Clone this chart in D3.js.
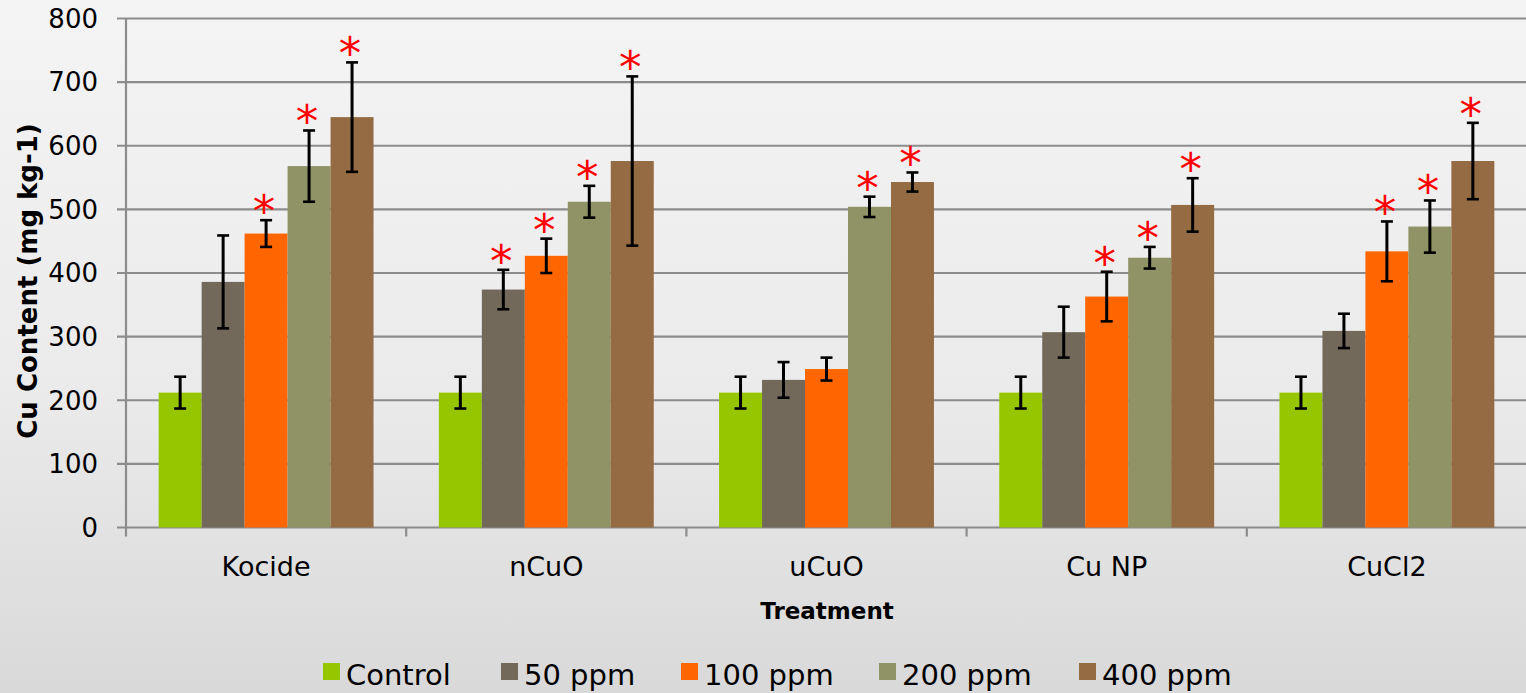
<!DOCTYPE html>
<html>
<head>
<meta charset="utf-8">
<script src="https://cdn.jsdelivr.net/npm/d3@7"></script>
<style>
  body { margin: 0; background: #e6e6e6; }
  svg { display: block; }
  text { font-family: "DejaVu Sans", sans-serif; fill: #000; }
</style>
</head>
<body>
<svg id="chart" width="1526" height="693"></svg>
<script>
// data
var treatments = ["Kocide", "nCuO", "uCuO", "Cu NP", "CuCl2"];
var doses = ["Control", "50 ppm", "100 ppm", "200 ppm", "400 ppm"];
var doseColors = ["#96c600", "#73695a", "#ff6600", "#8f9365", "#946b42"];

// Cu content (mg kg-1), one row per treatment, one value per dose
var kocideVals = [212, 386, 462, 568, 645];
var ncuoVals = [212, 374, 427, 512, 576];
var ucuoVals = [212, 232, 249, 504, 543];
var cunpVals = [212, 307, 363, 424, 507];
var cucl2Vals = [212, 309, 434, 473, 576];

// error bar half-widths
var kocideErr = [25, 73, 21, 56, 86];
var ncuoErr = [25, 31, 27, 25, 133];
var ucuoErr = [25, 28, 18, 16, 15];
var cunpErr = [25, 40, 39, 17, 42];
var cucl2Err = [25, 27, 47, 41, 60];

// significance marks (1 = asterisk)
var kocideSig = [0, 0, 1, 1, 1];
var ncuoSig = [0, 1, 1, 1, 1];
var ucuoSig = [0, 0, 0, 1, 1];
var cunpSig = [0, 0, 1, 1, 1];
var cucl2Sig = [0, 0, 1, 1, 1];

var yTicks = [0, 100, 200, 300, 400, 500, 600, 700, 800];

var allVals = [kocideVals, ncuoVals, ucuoVals, cunpVals, cucl2Vals];
var allErr = [kocideErr, ncuoErr, ucuoErr, cunpErr, cucl2Err];
var allSig = [kocideSig, ncuoSig, ucuoSig, cunpSig, cucl2Sig];

var rows = [];
treatments.forEach(function (t, i) {
    doses.forEach(function (d, j) {
        rows.push({ treatment: t, dose: d, value: allVals[i][j], err: allErr[i][j], sig: allSig[i][j] });
    });
});

var svg = d3.select("#chart");
var W = 1526, H = 693;

// background, light paper fading to grey at the bottom
var defs = svg.append("defs");
var grad = defs.append("linearGradient").attr("id", "bg").attr("x1", 0).attr("y1", 0).attr("x2", 0).attr("y2", 1);
grad.append("stop").attr("offset", "0%").attr("stop-color", "#f4f4f4");
grad.append("stop").attr("offset", "55%").attr("stop-color", "#ebebeb");
grad.append("stop").attr("offset", "100%").attr("stop-color", "#d9d9d9");
svg.append("rect").attr("width", W).attr("height", H).attr("fill", "url(#bg)");

var plotLeft = 126, plotRight = 1527, plotTop = 18.5, plotBottom = 527.5;

var x0 = d3.scaleBand().domain(treatments).range([plotLeft, plotRight]).padding(0);
var x1 = d3.scaleBand().domain(doses).range([0, x0.bandwidth()]).paddingInner(0).paddingOuter(0.76);
var y = d3.scaleLinear().domain([0, 800]).range([plotBottom, plotTop]);
var color = d3.scaleOrdinal().domain(doses).range(doseColors);

// gridlines
svg.append("g").selectAll("line")
    .data(yTicks)
    .enter()
    .append("line")
    .attr("x1", plotLeft - 9)
    .attr("x2", W)
    .attr("y1", function (d) { return y(d); })
    .attr("y2", function (d) { return y(d); })
    .attr("stroke", "#8c8c8c")
    .attr("stroke-width", 2.2);

// y axis labels
svg.append("g").selectAll("text")
    .data(yTicks)
    .enter()
    .append("text")
    .attr("x", 98)
    .attr("y", function (d) { return y(d); })
    .attr("dy", "0.36em")
    .attr("text-anchor", "end")
    .style("font-size", "26px")
    .text(function (d) { return d; });

// y axis line
svg.append("line")
    .attr("x1", plotLeft).attr("x2", plotLeft)
    .attr("y1", plotTop).attr("y2", plotBottom + 9)
    .attr("stroke", "#8c8c8c").attr("stroke-width", 2.2);

// x axis ticks at category boundaries
svg.append("g").selectAll("line")
    .data(treatments.slice(1))
    .enter()
    .append("line")
    .attr("x1", function (d) { return x0(d); })
    .attr("x2", function (d) { return x0(d); })
    .attr("y1", plotBottom)
    .attr("y2", plotBottom + 9)
    .attr("stroke", "#8c8c8c").attr("stroke-width", 2.2);

// category labels
svg.append("g").selectAll("text")
    .data(treatments)
    .enter()
    .append("text")
    .attr("x", function (d) { return x0(d) + x0.bandwidth() / 2; })
    .attr("y", 576)
    .attr("text-anchor", "middle")
    .style("font-size", "27px")
    .text(function (d) { return d; });

// bars
svg.append("g").selectAll("rect")
    .data(rows)
    .enter()
    .append("rect")
    .attr("x", function (d) { return x0(d.treatment) + x1(d.dose); })
    .attr("y", function (d) { return y(d.value); })
    .attr("width", x1.bandwidth())
    .attr("height", function (d) { return y(0) - y(d.value); })
    .attr("fill", function (d) { return color(d.dose); });

// error bars
var errG = svg.append("g").attr("stroke", "#000").attr("stroke-width", 2.6);
rows.forEach(function (d) {
    var cx = x0(d.treatment) + x1(d.dose) + x1.bandwidth() / 2;
    var hi = y(d.value + d.err), lo = y(d.value - d.err);
    errG.append("line").attr("x1", cx).attr("x2", cx).attr("y1", hi).attr("y2", lo).attr("stroke-width", 3);
    errG.append("line").attr("x1", cx - 6).attr("x2", cx + 6).attr("y1", hi).attr("y2", hi);
    errG.append("line").attr("x1", cx - 6).attr("x2", cx + 6).attr("y1", lo).attr("y2", lo);
});

// significance asterisks
svg.append("g").selectAll("text")
    .data(rows.filter(function (d) { return d.sig; }))
    .enter()
    .append("text")
    .attr("x", function (d) { return x0(d.treatment) + x1(d.dose) + x1.bandwidth() / 2 - 2; })
    .attr("y", function (d) { return y(d.value + d.err) + 7; })
    .attr("text-anchor", "middle")
    .style("font-size", "45px")
    .style("fill", "#ff0000")
    .text("*");

// axis titles
svg.append("text")
    .attr("x", 827)
    .attr("y", 619)
    .attr("text-anchor", "middle")
    .style("font-size", "23px")
    .style("font-weight", "bold")
    .text("Treatment");

svg.append("text")
    .attr("transform", "translate(37, 281) rotate(-90)")
    .attr("text-anchor", "middle")
    .style("font-size", "26px")
    .style("font-weight", "bold")
    .text("Cu Content (mg kg-1)");

// legend
var legendX = [323, 501, 681, 879, 1079];
var legend = svg.append("g").selectAll("g")
    .data(doses)
    .enter()
    .append("g")
    .attr("transform", function (d, i) { return "translate(" + legendX[i] + ", 663)"; });
legend.append("rect")
    .attr("width", 17).attr("height", 17)
    .attr("fill", function (d) { return color(d); });
legend.append("text")
    .attr("x", 23)
    .attr("y", 22)
    .style("font-size", "29px")
    .text(function (d) { return d; });
</script>
</body>
</html>
